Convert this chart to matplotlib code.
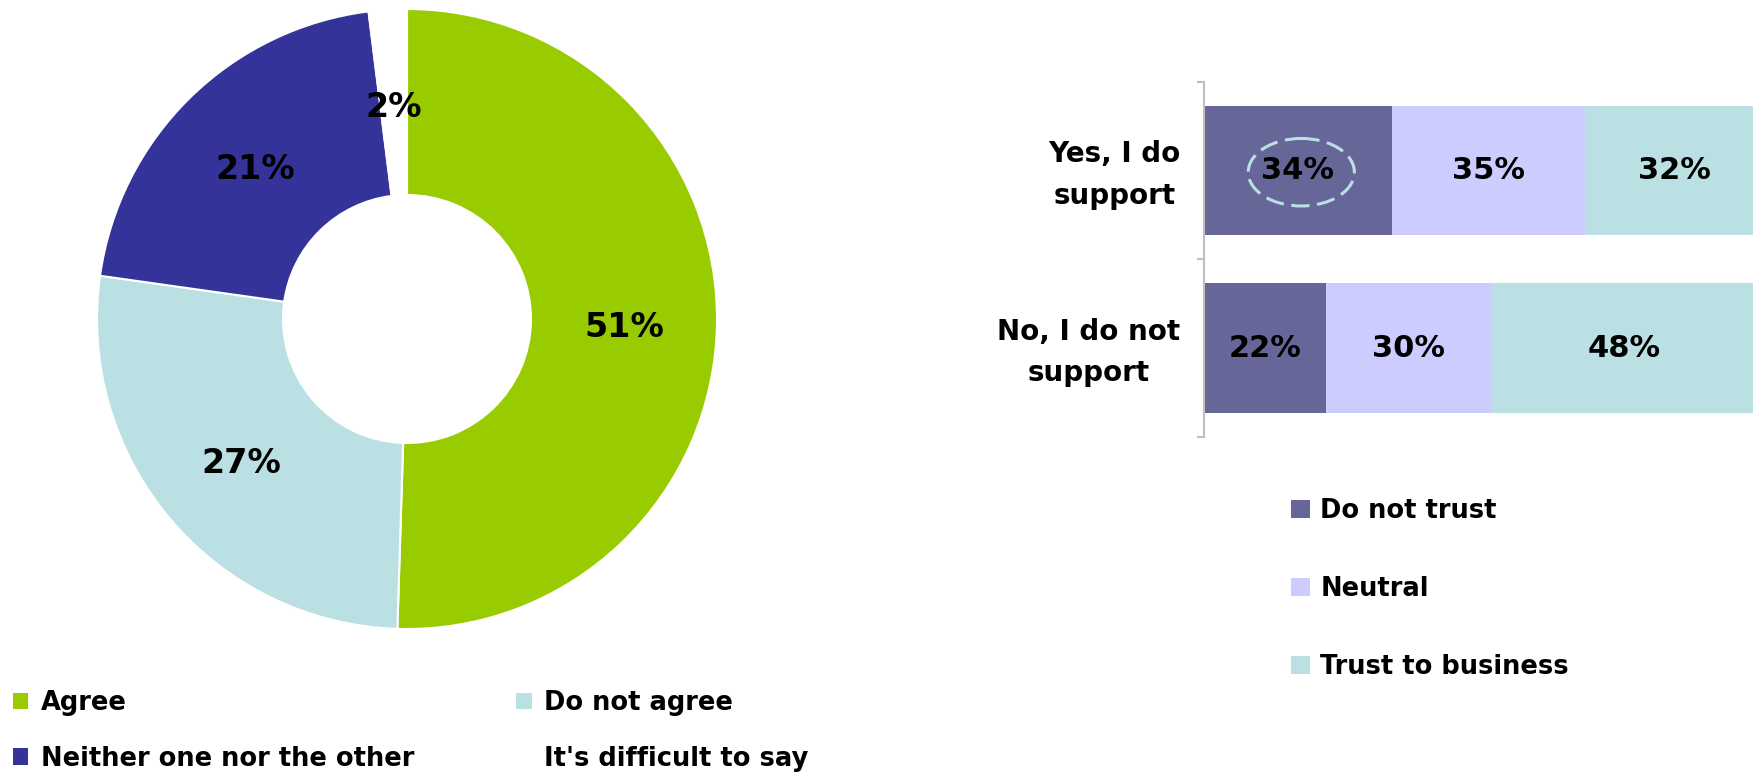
import matplotlib
matplotlib.use("Agg")
import matplotlib.pyplot as plt
from matplotlib.patches import Patch, Ellipse
from matplotlib.transforms import ScaledTranslation
import numpy as np

plt.rcParams['font.family'] = ['DejaVu Sans']
plt.rcParams['font.weight'] = 'bold'

# donut: opinion shares
pie_labels = ['Agree', 'Do not agree', 'Neither one nor the other', "It's difficult to say"]
pie_values = [51, 27, 21, 2]
pie_colors = ['#99CC00', '#BBE0E3', '#333399', '#FFFFFF']

# stacked bars: trust by support group
groups = ['Yes, I do\nsupport', 'No, I do not\nsupport']
trust_labels = ['Do not trust', 'Neutral', 'Trust to business']
trust_values = [
    [34, 22],   # Do not trust
    [35, 30],   # Neutral
    [32, 48],   # Trust to business
]
trust_colors = ['#666699', '#CCCCFF', '#BBE0E3']

W, H = 1753, 776
fig = plt.figure(figsize=(W / 100, H / 100), dpi=100)

# ---- donut ----
cx, cy, r = 407, 319, 310
ax1 = fig.add_axes([(cx - r) / W, (H - cy - r) / H, 2 * r / W, 2 * r / H])
ax1.pie(pie_values, colors=pie_colors, startangle=90, counterclock=False,
        radius=1, wedgeprops=dict(width=0.6, edgecolor='white', linewidth=1.5))
total = sum(pie_values)
start = 90.0
for v in pie_values:
    span = v / total * 360
    mid = np.deg2rad(start - span / 2)
    ax1.text(0.7 * np.cos(mid), 0.7 * np.sin(mid) - 0.015, f'{v}%', ha='center', va='center',
             fontsize=24, fontweight='bold')
    start -= span
ax1.set_xlim(-1, 1)
ax1.set_ylim(-1, 1)
ax1.axis('off')

handles = [Patch(facecolor=c, edgecolor='none') for c in pie_colors]
order = [0, 2, 1, 3]
fig.legend([handles[i] for i in order], [pie_labels[i] for i in order],
           ncol=2, loc='upper left', bbox_to_anchor=(13 / W, 1 - 690 / H),
           frameon=False, fontsize=18.5, borderpad=0, borderaxespad=0,
           handlelength=0.6, handleheight=0.6, handletextpad=0.5,
           labelspacing=1.15, columnspacing=3.95)

# ---- stacked bars ----
ax2 = fig.add_axes([1204 / W, 1 - 437 / H, 1 - 1204 / W, (437 - 81.6) / H])
y = np.arange(len(groups))
left = np.zeros(len(groups))
for vals, lab, col in zip(trust_values, trust_labels, trust_colors):
    vals = np.array(vals)
    ax2.barh(y, vals, left=left, height=0.73, color=col, label=lab)
    for yi, (l, v) in enumerate(zip(left, vals)):
        ax2.text(l + v / 2, yi, f'{v}%', ha='center', va='center',
                 fontsize=22, fontweight='bold')
    left = left + vals

# dashed ring around the first value
first = trust_values[0][0]
ax2.add_patch(Ellipse((first / 2 + 0.6, 0.01), 19.2, 0.38, fill=False, edgecolor='#BBE0E3',
                      linewidth=2.2, linestyle=(0, (6, 2.5)), zorder=5))

ax2.set_xlim(0, 99.3)
ax2.set_ylim(1.5, -0.5)
for s in ['top', 'right', 'bottom']:
    ax2.spines[s].set_visible(False)
ax2.spines['left'].set_color('#BFBFBF')
ax2.spines['left'].set_linewidth(1.5)
ax2.set_xticks([])
ax2.set_yticks(y)
ax2.set_yticklabels(groups, fontsize=20, fontweight='bold', multialignment='center',
                    linespacing=1.62)
ax2.set_yticks([-0.5, 0.5, 1.5], minor=True)
ax2.tick_params(axis='y', which='major', length=0, pad=17)
ax2.tick_params(axis='y', which='minor', length=5, width=1.5, color='#BFBFBF', direction='out')

# nudge the two-line category labels up a little
shift = ScaledTranslation(0, 4 / 72, fig.dpi_scale_trans)
for t in ax2.get_yticklabels():
    t.set_transform(t.get_transform() + shift)

bh = [Patch(facecolor=c, edgecolor='none') for c in trust_colors]
fig.legend(bh, trust_labels, loc='upper left', bbox_to_anchor=(1291 / W, 1 - 498 / H),
           frameon=False, fontsize=18.5, borderpad=0, borderaxespad=0,
           handlelength=0.74, handleheight=0.74, handletextpad=0.4, labelspacing=2.02)

fig.savefig('out.png', dpi=100)
